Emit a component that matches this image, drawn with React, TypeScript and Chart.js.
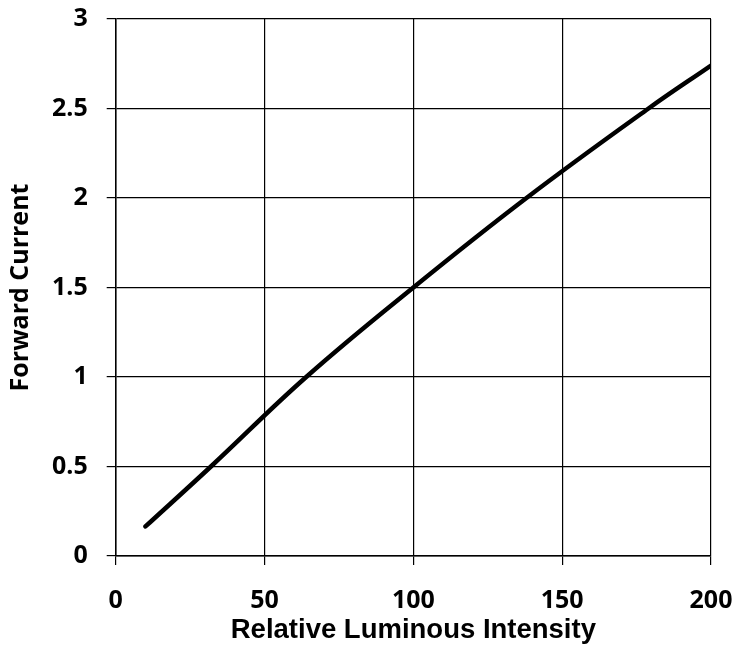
import React, { useEffect, useRef } from "react";
import { Chart, registerables } from "chart.js";

Chart.register(...registerables);

const luminosity = [10, 32, 64, 100, 138, 179, 200];
const forwardCurrent = [0.165, 0.5, 1.0, 1.5, 2.0, 2.5, 2.74];
const xTitle = "Relative Luminous Intensity";
const yTitle = "Forward Current";

export default function App() {
  const ref = useRef<HTMLCanvasElement | null>(null);
  useEffect(() => {
    document.body.style.margin = "0";
    const canvas = ref.current;
    if (!canvas) return;
    const chart = new Chart(canvas, {
      type: "scatter",
      data: {
        datasets: [
          {
            data: luminosity.map((x, i) => ({ x, y: forwardCurrent[i] })),
            showLine: true,
            borderColor: "#000",
            borderWidth: 4.5,
            borderCapStyle: "round",
            borderJoinStyle: "round",
            pointRadius: 0,
            tension: 0.4,
          },
        ],
      },
      options: {
        animation: false,
        responsive: false,
        devicePixelRatio: 1,
        layout: { padding: { left: 0, right: 26, top: 19, bottom: 0 } },
        plugins: { legend: { display: false }, tooltip: { enabled: false } },
        scales: {
          x: {
            type: "linear",
            min: 0,
            max: 200,
            ticks: {
              stepSize: 50,
              color: "#000",
              padding: 21,
              font: { family: "'Open Sans'", size: 25, weight: "bold" },
              maxRotation: 0,
              callback: (v: any) => String(v),
            },
            grid: { color: "#000", lineWidth: 1.2, tickLength: 9 },
            border: { color: "#000", width: 1.5 },
            title: {
              display: true,
              text: xTitle,
              color: "#000",
              font: { family: "'Liberation Sans'", size: 27.5, weight: "bold" },
              padding: { top: 0, bottom: 4 },
            },
            afterFit: (s: any) => {
              s.height = 95;
              s.paddingLeft = 0;
              s.paddingRight = 0;
            },
          },
          y: {
            type: "linear",
            min: 0,
            max: 3,
            ticks: {
              stepSize: 0.5,
              color: "#000",
              padding: 19,
              font: { family: "'Open Sans'", size: 25, weight: "bold" },
              callback: (v: any) => String(v),
            },
            grid: { color: "#000", lineWidth: 1.2, tickLength: 9 },
            border: { color: "#000", width: 1.5 },
            title: {
              display: true,
              text: yTitle,
              color: "#000",
              font: { family: "'Open Sans'", size: 25, weight: "bold" },
              padding: { top: 6, bottom: 0 },
            },
            afterFit: (s: any) => {
              s.width = 115.7;
              s.paddingTop = 0;
              s.paddingBottom = 0;
            },
          },
        },
      },
    });
    return () => chart.destroy();
  }, []);
  return (
    <div style={{ width: 737, height: 651, background: "#fff" }}>
      <canvas ref={ref} width={737} height={651} style={{ display: "block" }} />
    </div>
  );
}
